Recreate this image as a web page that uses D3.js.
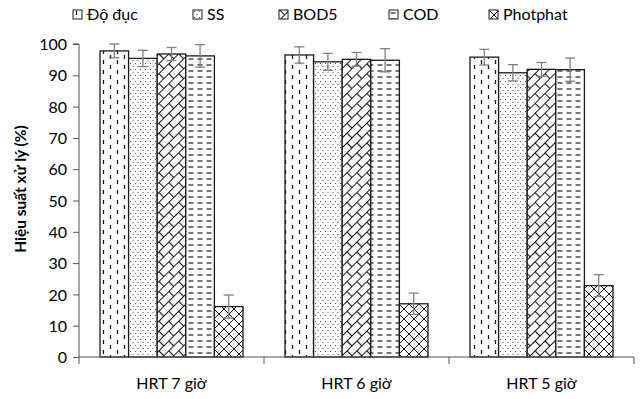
<html>
<head>
<script src="https://d3js.org/d3.v7.min.js"></script>
<style>
  body { margin: 0; background: #fff; }
  text { font-family: Lato, "Open Sans", sans-serif; fill: #000; }
</style>
</head>
<body>
<div id="chart_area"></div>
<script>
// data
var groups = ["HRT 7 giờ", "HRT 6 giờ", "HRT 5 giờ"];
var series = ["Độ đục", "SS", "BOD5", "COD", "Photphat"];
var values = [
  [97.8, 95.4, 96.8, 96.2, 16.1],   // HRT 7
  [96.5, 94.3, 95.1, 94.8, 17.0],   // HRT 6
  [95.8, 90.8, 91.9, 91.8, 22.8]    // HRT 5
];
var errors = [
  [2.2, 2.6, 2.1, 3.6, 3.7],
  [2.6, 2.7, 2.2, 3.7, 3.4],
  [2.5, 2.6, 2.2, 3.7, 3.5]
];
var yTicks = [0, 10, 20, 30, 40, 50, 60, 70, 80, 90, 100];

var W = 642, H = 399;
var margin = {top: 44, right: 8, bottom: 42, left: 79};
var width = 634 - margin.left, height = 357 - margin.top;

var svg = d3.select("#chart_area").append("svg")
    .attr("width", W).attr("height", H);

// fill patterns
var defs = svg.append("defs");
var ink = "#1a1a1a";
function pat(id, w, h) {
  var p = defs.append("pattern").attr("id", id)
    .attr("patternUnits", "userSpaceOnUse").attr("width", w).attr("height", h);
  p.append("rect").attr("width", w).attr("height", h).attr("fill", "#fff");
  return p;
}
var p0 = pat("p_ducc", 14, 10);
p0.append("path").attr("d", "M3.5,1V5 M10.5,6V10").attr("stroke", ink).attr("stroke-width", 1.3);

var p1 = pat("p_ss", 5, 6);
p1.append("rect").attr("x", 1).attr("y", 1).attr("width", 1).attr("height", 1).attr("fill", "#555");
p1.append("rect").attr("x", 3.5).attr("y", 4).attr("width", 1).attr("height", 1).attr("fill", "#555");

var p2 = pat("p_bod", 14, 14).attr("patternTransform", "rotate(-45)");
p2.append("path").attr("d", "M0,0.5H14 M0,7.5H14 M0.5,0.5V7.5 M7.5,7.5V14.5")
  .attr("stroke", ink).attr("stroke-width", 1.2);

var p3 = pat("p_cod", 9, 6);
p3.append("path").attr("d", "M1.5,3H6.5").attr("stroke", ink).attr("stroke-width", 1.2);

var p4 = pat("p_pho", 10, 10);
p4.append("path").attr("d", "M0,0L10,10 M10,0L0,10").attr("stroke", ink).attr("stroke-width", 1);

var fills = ["url(#p_ducc)", "url(#p_ss)", "url(#p_bod)", "url(#p_cod)", "url(#p_pho)"];

var g = svg.append("g").attr("transform", "translate(" + margin.left + "," + margin.top + ")");

var x = d3.scaleBand().domain(groups).range([0, width]).padding(0);
var xs = d3.scaleBand().domain(series).range([21, x.bandwidth() - 21]).padding(0);
var y = d3.scaleLinear().domain([0, 100]).range([height, 0]);

// bars
var rows = [];
groups.forEach(function(gr, i) {
  series.forEach(function(s, j) {
    rows.push({group: gr, s: s, j: j, v: values[i][j], e: errors[i][j]});
  });
});

g.append("g").selectAll("rect").data(rows).enter().append("rect")
  .attr("x", d => x(d.group) + xs(d.s))
  .attr("y", d => y(d.v))
  .attr("width", xs.bandwidth())
  .attr("height", d => y(0) - y(d.v))
  .attr("fill", d => fills[d.j])
  .attr("stroke", ink).attr("stroke-width", 1.3);

// error bars
var eb = g.append("g").attr("stroke", "#808080").attr("stroke-width", 1.3);
rows.forEach(function(d) {
  var cx = x(d.group) + xs(d.s) + xs.bandwidth() / 2;
  eb.append("line").attr("x1", cx).attr("x2", cx).attr("y1", y(d.v - d.e)).attr("y2", y(d.v + d.e));
  eb.append("line").attr("x1", cx - 5).attr("x2", cx + 5).attr("y1", y(d.v + d.e)).attr("y2", y(d.v + d.e));
  eb.append("line").attr("x1", cx - 5).attr("x2", cx + 5).attr("y1", y(d.v - d.e)).attr("y2", y(d.v - d.e));
});

// y axis
var ya = g.append("g").call(d3.axisLeft(y).tickValues(yTicks).tickSize(6).tickPadding(6));
ya.selectAll("text").style("font-size", "16px").attr("dy", "0.35em");
ya.selectAll("line,path").attr("stroke", "#555");
ya.select(".domain").attr("d", "M-6," + y(100) + "H0V" + y(0));

// x axis
var xa = g.append("g").attr("transform", "translate(0," + height + ")");
xa.append("line").attr("x1", 0).attr("x2", width).attr("stroke", "#555");
var bounds = groups.map(d => x(d)).concat([x(groups[groups.length - 1]) + x.bandwidth()]);
xa.selectAll(".tk").data(bounds).enter().append("line")
  .attr("x1", d => d).attr("x2", d => d).attr("y1", 0).attr("y2", 7).attr("stroke", "#555");
xa.selectAll(".lb").data(groups).enter().append("text")
  .attr("x", d => x(d) + x.bandwidth() / 2).attr("y", 32)
  .attr("text-anchor", "middle").style("font-size", "16px").text(d => d);

// y title
svg.append("text").attr("transform", "translate(26,189) rotate(-90)")
  .attr("text-anchor", "middle").style("font-size", "15.5px").style("font-weight", "bold")
  .text("Hiệu suất xử lý (%)");

// legend
var legX = [73, 193, 279, 389, 489];
var leg = svg.append("g");
series.forEach(function(s, j) {
  var it = leg.append("g").attr("transform", "translate(" + legX[j] + ",10)");
  it.append("rect").attr("width", 9).attr("height", 9).attr("fill", fills[j])
    .attr("stroke", ink).attr("stroke-width", 1);
  it.append("text").attr("x", 14).attr("y", 4.5).attr("dy", "0.35em")
    .style("font-size", "16px").text(s);
});
</script>
</body>
</html>
